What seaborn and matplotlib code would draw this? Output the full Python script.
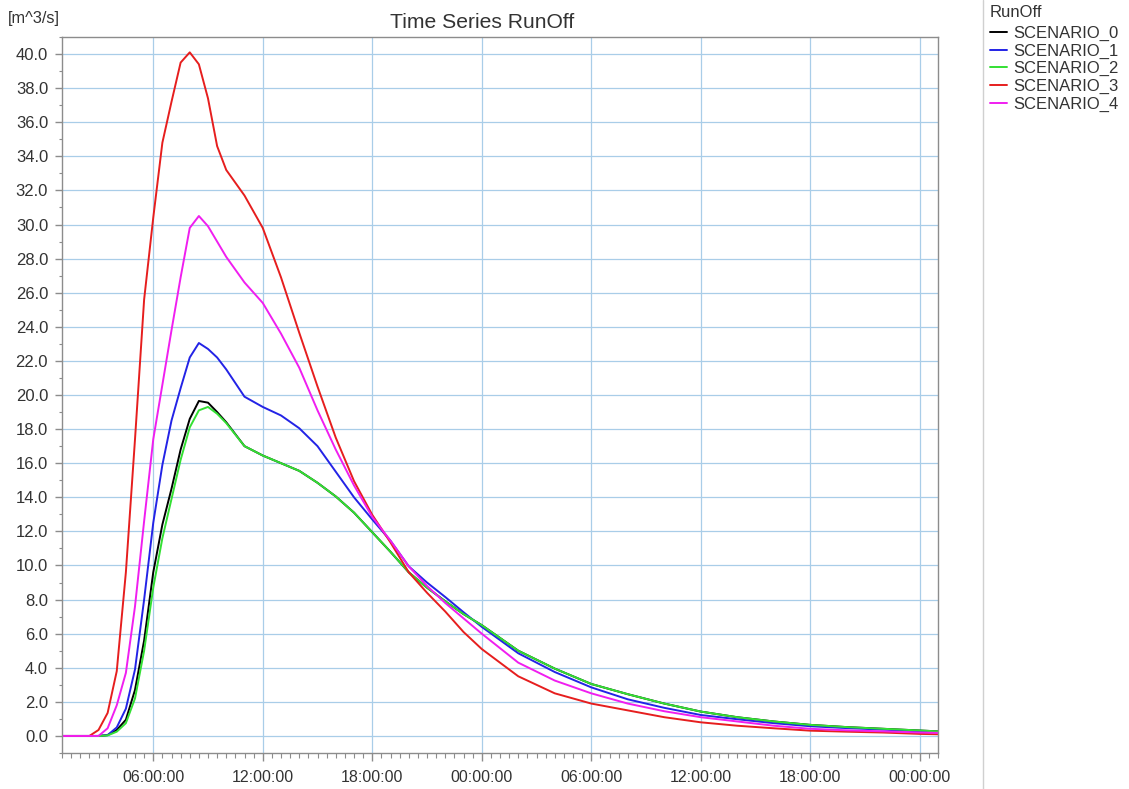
import numpy as np
import pandas as pd
import matplotlib
matplotlib.use("Agg")
import matplotlib.pyplot as plt
import seaborn as sns
from matplotlib.ticker import MultipleLocator, FuncFormatter
from matplotlib.lines import Line2D

# ---------------- data (hours since 00:00 of day 1) ----------------
hours = [1, 2, 2.5, 3, 3.5, 4, 4.5, 5, 5.5, 6, 6.5, 7, 7.5, 8, 8.5, 9, 9.5, 10,
         11, 12, 13, 14, 15, 16, 17, 18, 19, 20, 21, 22, 23, 24,
         26, 28, 30, 32, 34, 36, 38, 40, 42, 44, 46, 48, 49]

scenario_0 = [0, 0, 0, 0, 0.05, 0.35, 0.95, 2.7, 5.6, 9.6, 12.4, 14.5, 16.8, 18.6, 19.65, 19.55, 19.0, 18.4,
              17.0, 16.45, 16.0, 15.55, 14.85, 14.05, 13.1, 11.95, 10.8, 9.6, 8.7, 7.9, 7.15, 6.5,
              5.0, 3.95, 3.05, 2.45, 1.9, 1.43, 1.1, 0.85, 0.65, 0.52, 0.42, 0.32, 0.27]

scenario_1 = [0, 0, 0, 0, 0.05, 0.5, 1.6, 3.9, 8.0, 12.5, 15.9, 18.5, 20.4, 22.2, 23.05, 22.7, 22.2, 21.5,
              19.9, 19.3, 18.8, 18.05, 17.0, 15.5, 14.0, 12.7, 11.45, 9.95, 9.0, 8.15, 7.26, 6.4,
              4.85, 3.75, 2.85, 2.15, 1.65, 1.23, 0.98, 0.75, 0.57, 0.46, 0.37, 0.27, 0.22]

scenario_2 = [0, 0, 0, 0, 0.03, 0.25, 0.75, 2.2, 5.0, 8.7, 11.6, 13.9, 16.2, 18.1, 19.1, 19.3, 18.9, 18.35,
              17.0, 16.45, 16.0, 15.55, 14.85, 14.05, 13.1, 11.95, 10.8, 9.6, 8.7, 7.9, 7.15, 6.5,
              5.0, 3.95, 3.05, 2.45, 1.9, 1.43, 1.1, 0.85, 0.65, 0.52, 0.42, 0.32, 0.27]

scenario_3 = [0, 0, 0, 0.35, 1.35, 3.8, 9.6, 17.4, 25.6, 30.4, 34.8, 37.2, 39.5, 40.1, 39.4, 37.4, 34.6, 33.2,
              31.7, 29.8, 26.9, 23.65, 20.5, 17.5, 14.95, 12.97, 11.35, 9.6, 8.4, 7.3, 6.1, 5.1,
              3.5, 2.5, 1.9, 1.5, 1.1, 0.8, 0.6, 0.45, 0.31, 0.25, 0.2, 0.12, 0.1]

scenario_4 = [0, 0, 0, 0, 0.45, 1.8, 3.7, 7.6, 12.6, 17.4, 20.6, 23.8, 26.9, 29.8, 30.5, 29.9, 29.0, 28.1,
              26.6, 25.4, 23.6, 21.6, 19.1, 16.8, 14.7, 12.85, 11.45, 9.95, 8.8, 7.8, 6.9, 6.0,
              4.3, 3.25, 2.5, 1.9, 1.45, 1.1, 0.85, 0.6, 0.42, 0.33, 0.27, 0.2, 0.18]

series_names = ["SCENARIO_0", "SCENARIO_1", "SCENARIO_2", "SCENARIO_3", "SCENARIO_4"]
series_values = [scenario_0, scenario_1, scenario_2, scenario_3, scenario_4]
series_colors = ["#000000", "#2323e6", "#33e033", "#e61e1e", "#f01ef0"]

# ---------------- style ----------------
sns.set_theme(style="white")
plt.rcParams["font.family"] = ["Liberation Sans", "DejaVu Sans"]
text_color = "#333333"

df = pd.DataFrame({
    "hours": hours * len(series_names),
    "value": sum(series_values, []),
    "scenario": [n for n in series_names for _ in hours],
})

W, H = 1129, 789
fig = plt.figure(figsize=(W / 100, H / 100), dpi=100)
fig.patch.set_facecolor("white")
ax = fig.add_axes([62 / W, 1 - 753 / H, (938 - 62) / W, (753 - 37) / H])

sns.lineplot(data=df, x="hours", y="value", hue="scenario",
             palette=dict(zip(series_names, series_colors)),
             hue_order=series_names, estimator=None, linewidth=1.4,
             legend=False, ax=ax)
for ln in ax.get_lines():
    ln.set_solid_joinstyle("round")

ax.set_xlim(1, 49)
ax.set_ylim(-1, 41)
ax.set_xlabel("")
ax.set_ylabel("")

ax.xaxis.set_major_locator(MultipleLocator(6))
ax.xaxis.set_minor_locator(MultipleLocator(0.5))
ax.xaxis.set_major_formatter(FuncFormatter(lambda v, p: f"{int(round(v)) % 24:02d}:00:00"))
ax.yaxis.set_major_locator(MultipleLocator(2))
ax.yaxis.set_minor_locator(MultipleLocator(1))
ax.yaxis.set_major_formatter(FuncFormatter(lambda v, p: f"{v:.1f}"))

ax.grid(True, which="major", color="#a9cde8", linewidth=0.9)
ax.set_axisbelow(True)
for s in ax.spines.values():
    s.set_color("#8c8c8c")
    s.set_linewidth(1.0)

ax.tick_params(axis="x", which="major", direction="out", length=6, width=1,
               color="#8c8c8c", labelsize=11.5, labelcolor=text_color, pad=6, bottom=True)
ax.tick_params(axis="x", which="minor", direction="out", length=3.6, width=0.8,
               color="#8c8c8c", bottom=True)
ax.tick_params(axis="y", which="major", direction="out", length=5, width=1,
               color="#8c8c8c", labelsize=12, labelcolor=text_color, pad=5, left=True)
ax.tick_params(axis="y", which="minor", direction="out", length=2.5, width=0.8,
               color="#8c8c8c", left=True)

fig.text(482 / W, 1 - 22 / H, "Time Series RunOff", ha="center", va="center",
         fontsize=15.2, color=text_color)
fig.text(8 / W, 1 - 18 / H, "[m^3/s]", ha="left", va="center",
         fontsize=11.8, color=text_color)

fig.add_artist(Line2D([983 / W, 983 / W], [0, 1], transform=fig.transFigure,
                      color="#d0d0d0", linewidth=1))

handles = [Line2D([0], [0], color=c, linewidth=1.4) for c in series_colors]
leg = ax.legend(handles, series_names, title="RunOff", loc="upper left",
                bbox_to_anchor=(990 / W, 1 - 5 / H), bbox_transform=fig.transFigure,
                frameon=False, fontsize=12, title_fontsize=12, handlelength=1.0,
                handletextpad=0.4, labelspacing=0.16, borderpad=0, borderaxespad=0,
                alignment="left")
leg._legend_box.sep = 4
for t in leg.get_texts():
    t.set_color(text_color)
leg.get_title().set_color(text_color)

fig.savefig("out.png", dpi=100, facecolor="white")
